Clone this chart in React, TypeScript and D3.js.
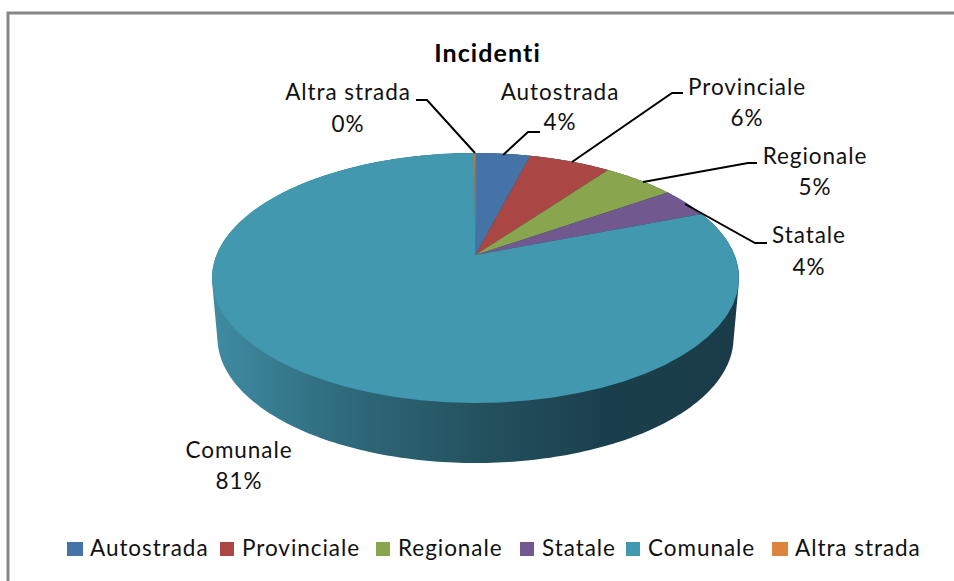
import React from "react";
import * as d3 from "d3";

const categories = ["Autostrada", "Provinciale", "Regionale", "Statale", "Comunale", "Altra strada"];
const values = [4.0, 6.0, 5.3, 3.8, 80.8, 0.1];
const percentLabels = ["4%", "6%", "5%", "4%", "81%", "0%"];
const colors = ["#4572a7", "#aa4643", "#89a54e", "#71588f", "#4198af", "#db843d"];
const wallStops = ["#3f8ca3", "#2f6a7d", "#25525f", "#1a3f4c", "#1a3c48"];
const legendX = [67, 220, 376, 520, 626, 772];
const labelPos = [
  { x: 560, y1: 100, y2: 130 },
  { x: 747, y1: 95, y2: 126 },
  { x: 815, y1: 164, y2: 195 },
  { x: 809, y1: 243, y2: 275 },
  { x: 239, y1: 458, y2: 489 },
  { x: 348, y1: 100, y2: 132 },
];
const leaderLines = [
  [[503, 155], [528, 132], [540, 132]],
  [[572, 162], [672, 93], [683, 93]],
  [[643, 182], [748, 163], [757, 163]],
  [[685, 204], [755, 243], [767, 243]],
  null,
  [[475, 153], [427, 100], [416, 100]],
];

const FONT = "Lato, 'Open Sans', sans-serif";
const cx = 475.5;
const k = -0.184;
const top = { a: 255, b: 73.85, r: 259 };
const bottom = { a: 315, b: 62.8, r: 253.6 };
type P = { a: number; b: number; r: number };
const project = (p: P, t: number): [number, number] => {
  const u = Math.sin(t), v = -Math.cos(t), d = 1 + k * v;
  return [cx + (p.r * u) / d, (p.a + p.b * v) / d];
};
const line = d3.line();

export default function App() {
  const pie = d3.pie<number>().sort(null)(values);
  const arcs = pie.map((s) => {
    const ts = d3.range(0, 61).map((i) => s.startAngle + ((s.endAngle - s.startAngle) * i) / 60);
    const pts: [number, number][] = [[cx, top.a], ...ts.map((t) => project(top, t))];
    return line(pts) + "Z";
  });
  const ring = d3.range(0, 360).map((i) => (i * Math.PI) / 180);
  const hull = d3.polygonHull([...ring.map((t) => project(top, t)), ...ring.map((t) => project(bottom, t))])!;
  const legendScale = d3.scaleOrdinal<string, number>().domain(categories).range(legendX);

  return (
    <svg width={954} height={581} style={{ position: "absolute", left: 0, top: 0, background: "#fff" }} fontFamily={FONT}>
      <defs>
        <linearGradient id="wall" gradientUnits="userSpaceOnUse" x1={212} x2={739} y1={0} y2={0}>
          {wallStops.map((c, i) => (
            <stop key={i} offset={i / (wallStops.length - 1)} stopColor={c} />
          ))}
        </linearGradient>
      </defs>
      <path d="M8 581V13H954" fill="none" stroke="#868686" strokeWidth={3} />
      <text x={487.5} y={62} textAnchor="middle" fontSize={25} fontWeight={700} letterSpacing={1.1} fill="#000">Incidenti</text>
      <path d={line(hull) + "Z"} fill="url(#wall)" />
      {arcs.map((d, i) => (
        <path key={i} d={d} fill={colors[i]} />
      ))}
      {leaderLines.map((l, i) =>
        l ? <path key={i} d={line(l as [number, number][])!} fill="none" stroke="#000" strokeWidth={2} /> : null
      )}
      {categories.map((c, i) => (
        <g key={c} fontSize={22.5} letterSpacing={0.95} textAnchor="middle" fill="#111">
          <text x={labelPos[i].x} y={labelPos[i].y1}>{c}</text>
          <text x={labelPos[i].x} y={labelPos[i].y2}>{percentLabels[i]}</text>
        </g>
      ))}
      {categories.map((c, i) => {
        const x = legendScale(c);
        const w = i === 0 || i === 5 ? 16 : 14;
        return (
          <g key={c + "l"}>
            <rect x={x} y={542} width={w} height={14} fill={colors[i]} />
            <text x={x + w + (i === 0 || i === 5 ? 7 : 8)} y={556} fontSize={22.5} letterSpacing={0.95} fill="#111">{c}</text>
          </g>
        );
      })}
    </svg>
  );
}
